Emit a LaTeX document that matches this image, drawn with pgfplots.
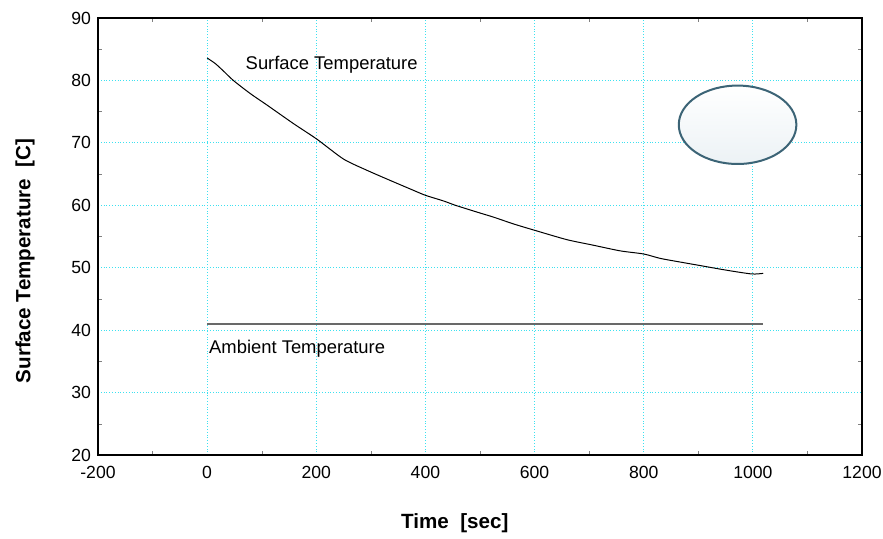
\documentclass[border=0pt]{standalone}
\usepackage{fontspec}
\setmainfont{Liberation Sans}
\usepackage{pgfplots}
\pgfplotsset{compat=1.18}
\definecolor{gridcyan}{RGB}{60,225,240}
\definecolor{ambgray}{RGB}{105,105,105}
\definecolor{ovaledge}{RGB}{60,100,118}
\definecolor{ovalfill}{RGB}{236,242,245}

\begin{document}
\begin{tikzpicture}
  \useasboundingbox (-49pt,-41.5pt) rectangle (392.5pt,227.5pt);
  \begin{axis}[
      at={(0,0)}, anchor=south west,
      scale only axis,
      width=382pt, height=218.5pt,
      xmin=-200, xmax=1200, ymin=20, ymax=90,
      xtick={-200,0,...,1200}, ytick={20,30,...,90},
      minor x tick num=1, minor y tick num=1,
      major tick length=0pt, minor tick length=2.2pt,
      tick align=inside,
      grid=major,
      major grid style={gridcyan, densely dotted, line width=0.6pt},
      axis line style={line width=0.75pt},
      /pgf/number format/assume math mode=true,
      /pgf/number format/1000 sep={},
      tick label style={font=\fontsize{8.8}{10}\selectfont},
      xticklabel style={yshift=-2pt},
      xlabel={\textbf{Time\ \ [sec]}},
      ylabel={\textbf{Surface Temperature\ \ [C]}},
      label style={font=\fontsize{10.3}{12}\selectfont},
      xlabel style={at={(axis description cs:0.467,-0.1556)}, anchor=center},
      ylabel style={at={(axis description cs:-0.0955,0.444)}, anchor=center},
    ]
    % surface temperature
    \addplot[black, line width=0.5pt, smooth, tension=0.4] coordinates {
      (0,83.6) (15,82.7) (30,81.5) (48,80.0) (79,77.9) (109,76.1)
      (158,73.1) (201,70.6) (250,67.4) (293,65.6) (335,64.0)
      (378,62.4) (400,61.6) (433,60.7) (455,60.0) (495,58.9) (525,58.1)
      (562,57.0) (600,56.0) (659,54.5) (708,53.6) (757,52.7) (800,52.2)
      (830,51.5) (861,51.0) (900,50.4) (952,49.6) (998,49.0) (1019,49.1)
    };
    % ambient temperature
    \addplot[ambgray, line width=1pt] coordinates {(0,41.0) (1019,41.0)};

    \node[anchor=west, font=\fontsize{9.2}{11}\selectfont, inner sep=0pt]
      at (axis cs:70,82.5) {Surface Temperature};
    \node[anchor=west, font=\fontsize{9.2}{11}\selectfont, inner sep=0pt]
      at (axis cs:3,37.1) {Ambient Temperature};

    \draw[ovaledge, line width=1pt, top color=white, bottom color=ovalfill]
      (axis cs:972,72.9) ellipse [x radius=29.4pt, y radius=19.6pt];
  \end{axis}
\end{tikzpicture}
\end{document}
